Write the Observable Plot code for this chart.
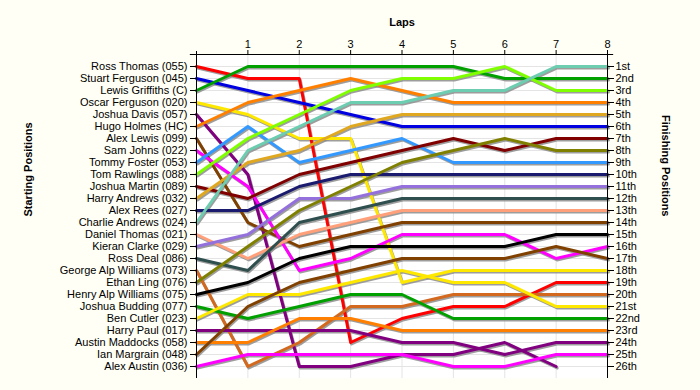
<!DOCTYPE html>
<html>
<head>
<meta charset="utf-8">
<script src="https://cdn.jsdelivr.net/npm/d3@7"></script>
<script src="https://cdn.jsdelivr.net/npm/@observablehq/plot@0.6"></script>
<style>
  html, body { margin: 0; padding: 0; background: #fffff5; }
</style>
</head>
<body>
<div id="chart"></div>
<script>
// Drivers in starting order
const drivers = [
  "Ross Thomas (055)", "Stuart Ferguson (045)", "Lewis Griffiths (C)", "Oscar Ferguson (020)",
  "Joshua Davis (057)", "Hugo Holmes (HC)", "Alex Lewis (099)", "Sam Johns (022)",
  "Tommy Foster (053)", "Tom Rawlings (088)", "Joshua Martin (089)", "Harry Andrews (032)",
  "Alex Rees (027)", "Charlie Andrews (024)", "Daniel Thomas (021)", "Kieran Clarke (029)",
  "Ross Deal (086)", "George Alp Williams (073)", "Ethan Ling (076)", "Henry Alp Williams (075)",
  "Joshua Budding (077)", "Ben Cutler (023)", "Harry Paul (017)", "Austin Maddocks (058)",
  "Ian Margrain (048)", "Alex Austin (036)"
];

const driverColors = [
  "#ff0000", "#0000e0", "#00a000", "#ffe800", "#800080", "#ff8000", "#804000", "#ff00ff",
  "#3399ff", "#80ff00", "#800000", "#e0a820", "#1a1a6e", "#6ccdb0", "#ffa07a", "#9370db",
  "#2f4f4f", "#d2691e", "#808000", "#000000",
  "#00a000", "#ffe800", "#800080", "#ff8000", "#804000", "#ff00ff"
];

const finishLabels = [
  "1st", "2nd", "3rd", "4th", "5th", "6th", "7th", "8th", "9th", "10th", "11th", "12th", "13th",
  "14th", "15th", "16th", "17th", "18th", "19th", "20th", "21st", "22nd", "23rd", "24th", "25th", "26th"
];

const laps = [0, 1, 2, 3, 4, 5, 6, 7, 8];

// Position of each driver (in starting order) at the end of each lap
const lap0 = [1, 2, 3, 4, 5, 6, 7, 8, 9, 10, 11, 12, 13, 14, 15, 16, 17, 18, 19, 20, 21, 22, 23, 24, 25, 26];
const lap1 = [2, 3, 1, 5, 10, 4, 14, 11, 6, 7, 12, 9, 13, 8, 17, 15, 18, 26, 16, 19, 22, 20, 23, 24, 21, 25];
const lap2 = [2, 4, 1, 7, 26, 3, 16, 18, 9, 5, 10, 8, 11, 6, 15, 12, 14, 24, 13, 17, 21, 20, 23, 22, 19, 25];
const lap3 = [24, 5, 1, 7, 26, 2, 15, 17, 8, 3, 9, 6, 10, 4, 14, 12, 13, 21, 11, 16, 20, 19, 23, 22, 18, 25];
const lap4 = [22, 6, 1, 19, 25, 3, 14, 15, 7, 2, 8, 5, 10, 4, 13, 11, 12, 21, 9, 16, 20, 18, 24, 23, 17, 25];
const lap5 = [21, 6, 1, 18, 25, 4, 14, 15, 9, 2, 7, 5, 10, 3, 13, 11, 12, 20, 8, 16, 22, 19, 24, 23, 17, 26];
const lap6 = [21, 6, 2, 18, 24, 4, 14, 15, 9, 1, 8, 5, 10, 3, 13, 11, 12, 20, 7, 16, 22, 19, 25, 23, 17, 26];
const lap7 = [19, 6, 2, 18, 26, 4, 14, 17, 9, 3, 7, 5, 10, 1, 13, 11, 12, 20, 8, 15, 22, 21, 24, 23, 16, 25];
const lap8 = [19, 6, 2, 18, null, 4, 14, 16, 9, 3, 7, 5, 10, 1, 13, 11, 12, 20, 8, 15, 22, 21, 24, 23, 17, 25];

const lapPositions = [lap0, lap1, lap2, lap3, lap4, lap5, lap6, lap7, lap8];

const rows = [];
drivers.forEach((name, i) => {
  laps.forEach((lap, l) => {
    const p = lapPositions[l][i];
    if (p != null) rows.push({driver: name, lap, pos: p, color: driverColors[i]});
  });
});

const positions = d3.range(1, drivers.length + 1);

const chart = Plot.plot({
  width: 700,
  height: 390,
  marginTop: 54,
  marginBottom: 12,
  marginLeft: 196,
  marginRight: 93,
  style: {fontFamily: "'Liberation Sans', Arial, sans-serif", fontSize: "11px", background: "#fffff5", color: "black"},
  x: {domain: [0, 8]},
  y: {domain: [0, 27], reverse: true},
  color: {type: "identity"},
  marks: [
    Plot.frame({fill: "white", stroke: "none"}),
    Plot.gridY(positions, {stroke: "#e4e4e4", strokeOpacity: 1}),
    Plot.gridX(laps.filter(d => d > 0 && d < 8), {stroke: "#e4e4e4", strokeOpacity: 1}),
    Plot.line(rows, {x: "lap", y: "pos", z: "driver", stroke: "#8c8c8c", strokeWidth: 3, dx: 1, dy: 1.5, strokeOpacity: 0.85}),
    Plot.line(rows, {x: "lap", y: "pos", z: "driver", stroke: "color", strokeWidth: 3}),
    Plot.ruleX([0, 8], {y1: -0.25, y2: 27, stroke: "black"}),
    Plot.ruleY([0], {x1: -0.12, x2: 8.12, stroke: "black"}),
    Plot.axisY(positions, {anchor: "left", tickSize: 6, tickPadding: 3, label: null, tickFormat: d => drivers[d - 1], fill: "black", stroke: "black"}),
    Plot.axisY(positions, {anchor: "right", tickSize: 6, tickPadding: 2, label: null, tickFormat: d => finishLabels[d - 1], fill: "black", stroke: "black"}),
    Plot.axisX(laps.filter(d => d > 0), {anchor: "top", tickSize: 5, tickPadding: 2, label: null, fill: "black", stroke: "black"}),
    Plot.text(["Laps"], {frameAnchor: "top", dy: -36, fontWeight: "bold", fontSize: 11, fill: "black"}),
    Plot.text(["Starting Positions"], {frameAnchor: "left", dx: -168, rotate: -90, fontWeight: "bold", fontSize: 11, fill: "black"}),
    Plot.text(["Finishing Positions"], {frameAnchor: "right", dx: 58, rotate: 90, fontWeight: "bold", fontSize: 11, fill: "black"})
  ]
});
document.getElementById("chart").appendChild(chart);
</script>
</body>
</html>
